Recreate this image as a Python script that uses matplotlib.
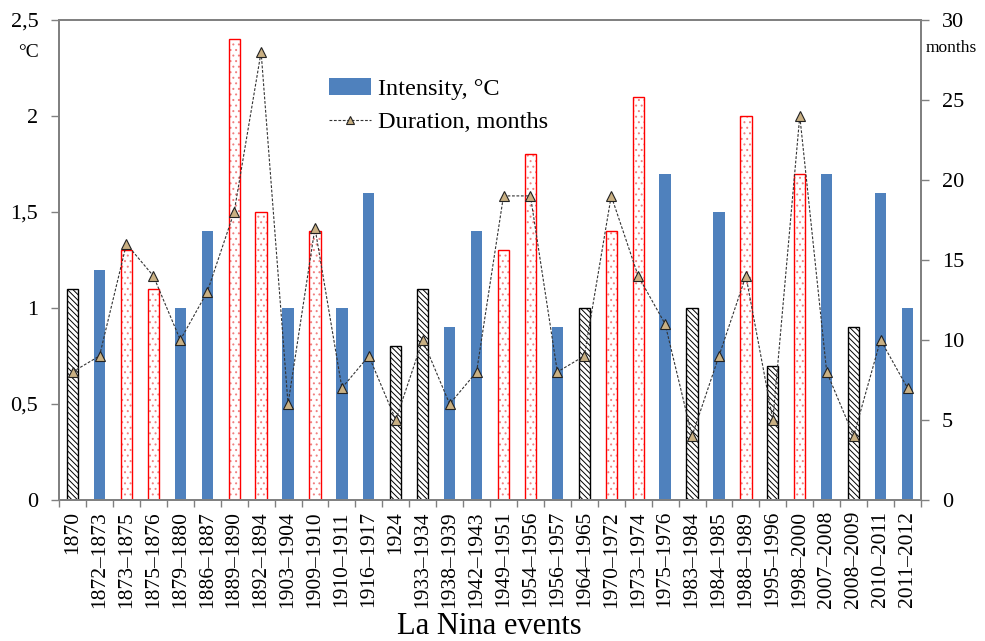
import matplotlib
matplotlib.use('Agg')
import matplotlib.pyplot as plt
from matplotlib.ticker import FixedLocator, FuncFormatter
from matplotlib.patches import Patch
from matplotlib.lines import Line2D
import numpy as np

plt.rcParams['font.family'] = ['Liberation Serif', 'DejaVu Serif']
plt.rcParams['hatch.linewidth'] = 0.7

# La Nina events
events = ['1870', '1872–1873', '1873–1875', '1875–1876', '1879–1880', '1886–1887',
          '1889–1890', '1892–1894', '1903–1904', '1909–1910', '1910–1911', '1916–1917',
          '1924', '1933–1934', '1938–1939', '1942–1943', '1949–1951', '1954–1956',
          '1956–1957', '1964–1965', '1970–1972', '1973–1974', '1975–1976', '1983–1984',
          '1984–1985', '1988–1989', '1995–1996', '1998–2000', '2007–2008', '2008–2009',
          '2010–2011', '2011–2012']
intensity = [1.1, 1.2, 1.3, 1.1, 1.0, 1.4, 2.4, 1.5, 1.0, 1.4, 1.0, 1.6,
             0.8, 1.1, 0.9, 1.4, 1.3, 1.8, 0.9, 1.0, 1.4, 2.1, 1.7, 1.0,
             1.5, 2.0, 0.7, 1.7, 1.7, 0.9, 1.6, 1.0]
duration = [8, 9, 16, 14, 10, 13, 18, 28, 6, 17, 7, 9,
            5, 10, 6, 8, 19, 19, 8, 9, 19, 14, 11, 4,
            9, 14, 5, 24, 8, 4, 10, 7]
# event group: 'h' hatched, 'r' red dotted, 'b' plain blue
group = ['h', 'b', 'r', 'r', 'b', 'b', 'r', 'r', 'b', 'r', 'b', 'b',
         'h', 'h', 'b', 'b', 'r', 'r', 'b', 'h', 'r', 'r', 'b', 'h',
         'b', 'r', 'h', 'r', 'b', 'h', 'b', 'b']

blue = '#4F81BD'
width = 0.42
x = np.arange(len(events))
intensity = np.array(intensity)
group = np.array(group)

fig = plt.figure(figsize=(9.85, 6.41), dpi=100)
ax = fig.add_axes([0.06, 0.22, 0.875, 0.749])

m = group == 'b'
ax.bar(x[m], intensity[m], width=width, color=blue, edgecolor='none', zorder=2)
m = group == 'h'
ax.bar(x[m], intensity[m], width=width, color='white', edgecolor='black',
       hatch='\\\\\\\\\\\\', linewidth=1.0, zorder=2)
m = group == 'r'
ax.bar(x[m], intensity[m], width=width, color='white', edgecolor='#F08080',
       hatch='...', linewidth=0, zorder=2)
ax.bar(x[m], intensity[m], width=width, fill=False, edgecolor='#FF0000',
       linewidth=1.0, zorder=2)

ax.set_xlim(-0.5, len(events) - 0.5)
ax.set_ylim(0, 2.5)
ax.set_yticks(np.arange(0, 2.51, 0.5))
ax.yaxis.set_major_formatter(FuncFormatter(lambda v, p: ('%g' % v).replace('.', ',')))
ax.tick_params(axis='y', direction='out', length=6, width=1, color='#808080',
               labelsize=16, pad=9)

ax.set_xticks(x)
ax.set_xticklabels(events, rotation=90, fontsize=15.5)
ax.xaxis.set_minor_locator(FixedLocator(np.arange(-0.5, len(events), 1.0)))
ax.tick_params(axis='x', which='major', length=0, pad=8)
ax.tick_params(axis='x', which='minor', length=5, width=1, color='#808080')
for s in ax.spines.values():
    s.set_color('#808080')
    s.set_linewidth(1.3)

ax2 = ax.twinx()
ax2.plot(x, duration, linestyle=(0, (2.5, 1.5)), color='#333333', linewidth=0.8,
         marker='^', markersize=7, markerfacecolor='#C9B083',
         markeredgecolor='#222222', markeredgewidth=0.8, zorder=3)
ax2.set_ylim(0, 30)
ax2.set_yticks(np.arange(0, 31, 5))
ax2.tick_params(axis='y', direction='out', length=6, width=1, color='#808080',
                labelsize=16, pad=9)
for s in ax2.spines.values():
    s.set_color('#808080')
    s.set_linewidth(1.3)

fig.text(0.018, 0.918, '°C', fontsize=14, ha='left', va='center')
fig.text(0.940, 0.925, 'months', fontsize=12.5, ha='left', va='center')
fig.text(0.497, 0.0, 'La Nina events', fontsize=22, ha='center', va='bottom')

handles = [Patch(facecolor=blue, edgecolor='none'),
           Line2D([0], [0], linestyle=(0, (2.5, 1.5)), color='#333333', linewidth=0.8,
                  marker='^', markersize=6, markerfacecolor='#C9B083',
                  markeredgecolor='#222222', markeredgewidth=0.8)]
fig.legend(handles, ['Intensity, °C', 'Duration, months'], loc='upper left',
           bbox_to_anchor=(0.312, 0.912), frameon=False, fontsize=17.5,
           handlelength=1.7, handletextpad=0.3, labelspacing=0.45)

fig.savefig('out.png', dpi=100)
